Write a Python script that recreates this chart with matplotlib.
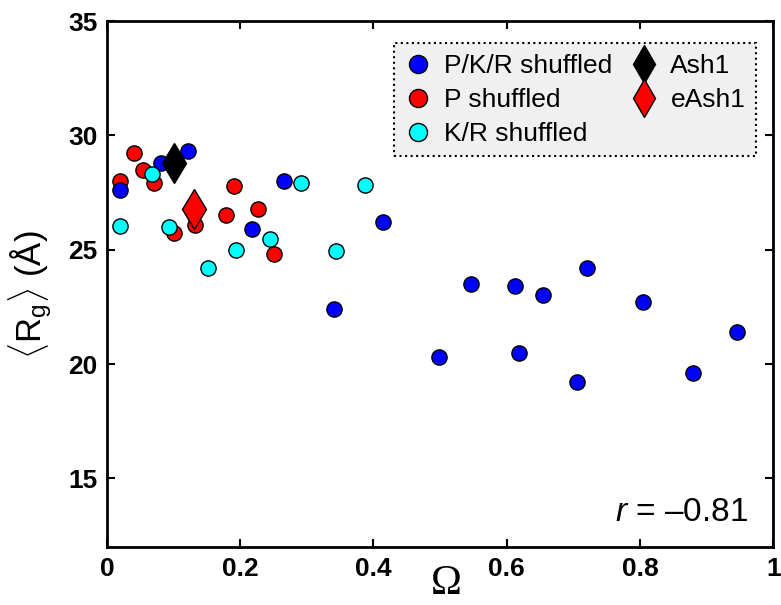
import matplotlib
matplotlib.use("Agg")
import matplotlib.pyplot as plt
from matplotlib.lines import Line2D

plt.rcParams['font.family'] = ['Liberation Sans', 'DejaVu Sans']
plt.rcParams['mathtext.fontset'] = 'custom'
plt.rcParams['mathtext.rm'] = 'Liberation Sans'
plt.rcParams['mathtext.it'] = 'Liberation Sans:italic'

# P/K/R shuffled
pkr_x = [0.020, 0.081, 0.122, 0.266, 0.217, 0.414, 0.341, 0.546, 0.613, 0.654,
         0.721, 0.805, 0.499, 0.618, 0.705, 0.879, 0.945]
pkr_y = [27.6, 28.8, 29.3, 28.0, 25.9, 26.2, 22.4, 23.5, 23.4, 23.0,
         24.2, 22.7, 20.3, 20.5, 19.2, 19.6, 21.4]

# P shuffled
p_x = [0.019, 0.041, 0.054, 0.070, 0.100, 0.132, 0.191, 0.178, 0.226, 0.251]
p_y = [28.0, 29.25, 28.5, 27.9, 25.75, 26.1, 27.8, 26.5, 26.8, 24.8]

# K/R shuffled
kr_x = [0.019, 0.068, 0.093, 0.151, 0.193, 0.245, 0.291, 0.344, 0.387]
kr_y = [26.05, 28.3, 26.0, 24.2, 25.0, 25.45, 27.9, 24.95, 27.85]

ash1 = (0.100, 28.8)
eash1 = (0.131, 26.8)

fig = plt.figure(figsize=(7.81, 6.05), dpi=100)
ax = fig.add_axes([0.137, 0.096, 0.853, 0.869])

mk = dict(marker='o', s=120, edgecolors='black', linewidths=1.0)
ax.scatter(p_x, p_y, c='#ff0000', zorder=3, **mk)
ax.scatter(pkr_x, pkr_y, c='#0000ff', zorder=3, **mk)
ax.scatter(kr_x, kr_y, c='#00ffff', zorder=3, **mk)
ax.plot(*ash1, marker='d', ms=20, color='black', mec='black', ls='none', zorder=4)
ax.plot(*eash1, marker='d', ms=20, color='#ff0000', mec='black', mew=1.0, ls='none', zorder=4)

ax.set_xlim(0, 1)
ax.set_ylim(12, 35)
ax.set_xticks([0, 0.2, 0.4, 0.6, 0.8, 1])
ax.set_xticklabels(['0', '0.2', '0.4', '0.6', '0.8', '1'])
ax.set_yticks([15, 20, 25, 30, 35])
ax.tick_params(direction='in', length=6, width=1.5, top=True, right=True,
               labelsize=19, pad=7)
for lab in ax.get_xticklabels() + ax.get_yticklabels():
    lab.set_fontweight('bold')
for sp in ax.spines.values():
    sp.set_linewidth(2.0)

ax.set_ylabel(r'$\langle$R$_\mathrm{g}$$\rangle$ (Å)', fontsize=25)
ax.yaxis.set_label_coords(-0.08, 0.48)
ax.set_xlabel('Ω', fontsize=30, family='Liberation Serif', va='bottom')
ax.xaxis.set_label_coords(0.51, -0.106)

ax.text(0.962, 0.065, '$r$ = \u20130.81', transform=ax.transAxes, ha='right',
        va='center', fontsize=24)

handles = [
    Line2D([], [], marker='o', ls='none', ms=13, mfc='#0000ff', mec='black'),
    Line2D([], [], marker='o', ls='none', ms=13, mfc='#ff0000', mec='black'),
    Line2D([], [], marker='o', ls='none', ms=13, mfc='#00ffff', mec='black'),
    Line2D([], [], marker='d', ls='none', ms=19, mfc='black', mec='black'),
    Line2D([], [], marker='d', ls='none', ms=19, mfc='#ff0000', mec='black'),
]
labels = ['P/K/R shuffled', 'P shuffled', 'K/R shuffled', 'Ash1', 'eAsh1']
leg = ax.legend(handles, labels, ncol=2, loc='upper right',
                bbox_to_anchor=(0.974, 0.958), borderaxespad=0, fontsize=19,
                frameon=True, fancybox=False, handlelength=1.0,
                handletextpad=0.5, columnspacing=0.7, labelspacing=0.38,
                borderpad=0.4)
frame = leg.get_frame()
frame.set_facecolor('#f0f0f0')
frame.set_edgecolor('black')
frame.set_linestyle(':')
frame.set_linewidth(1.5)
frame.set_alpha(1)

fig.savefig('out.png', dpi=100)
